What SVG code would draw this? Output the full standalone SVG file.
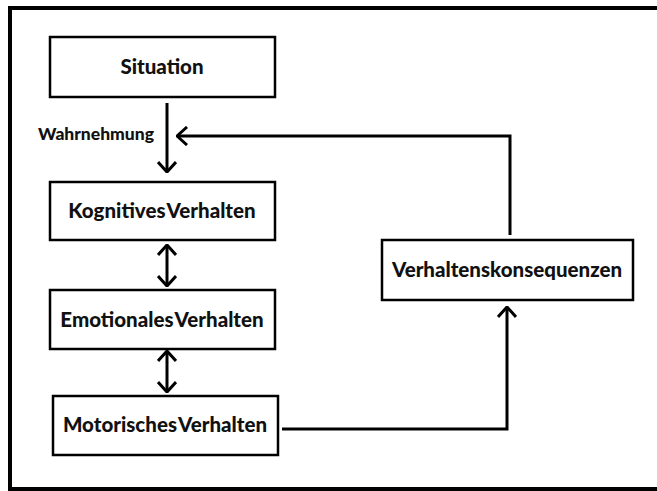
<svg xmlns="http://www.w3.org/2000/svg" width="657" height="491" viewBox="0 0 657 491">
<style>
.box{fill:#fff;stroke:#000;stroke-width:2.5}
.t{font-family:Lato,"Open Sans","Liberation Sans",sans-serif;font-weight:900;font-size:20.5px;fill:#111;text-anchor:middle;word-spacing:-3px}
.c{fill:none;stroke:#000;stroke-width:3}
</style>
<defs>
<marker id="ah" viewBox="0 0 12 20" refX="11" refY="10" markerWidth="12" markerHeight="20" markerUnits="userSpaceOnUse" orient="auto-start-reverse">
<path d="M1,1 L11,10 L1,19" fill="none" stroke="#000" stroke-width="3"/>
</marker>
</defs>
<rect width="657" height="491" fill="#fff"/>
<rect x="10" y="8" width="660" height="481" fill="none" stroke="#000" stroke-width="4"/>
<g id="situation"><rect class="box" x="50" y="37" width="225" height="60"/><text class="t" x="162" y="74">Situation</text></g>
<g id="kognitiv"><rect class="box" x="50" y="182" width="225" height="58"/><text class="t" x="162" y="218">Kognitives Verhalten</text></g>
<g id="emotional"><rect class="box" x="50" y="290" width="225" height="59"/><text class="t" x="162" y="327">Emotionales Verhalten</text></g>
<g id="motorisch"><rect class="box" x="53" y="396" width="225" height="59"/><text class="t" x="165" y="432">Motorisches Verhalten</text></g>
<g id="konsequenzen"><rect class="box" x="382" y="240" width="251" height="60"/><text class="t" x="507" y="277">Verhaltenskonsequenzen</text></g>
<g id="connectors">
<line class="c" x1="167" y1="103" x2="167" y2="172" marker-end="url(#ah)"/>
<text class="t" x="96" y="140" style="font-size:17.5px">Wahrnehmung</text>
<polyline class="c" points="510,235 510,136 177,136" marker-end="url(#ah)"/>
<line class="c" x1="167" y1="245" x2="167" y2="286" marker-start="url(#ah)" marker-end="url(#ah)"/>
<line class="c" x1="167" y1="351" x2="167" y2="392" marker-start="url(#ah)" marker-end="url(#ah)"/>
<polyline class="c" points="282,429 507,429 507,307" marker-end="url(#ah)"/>
</g>
</svg>
